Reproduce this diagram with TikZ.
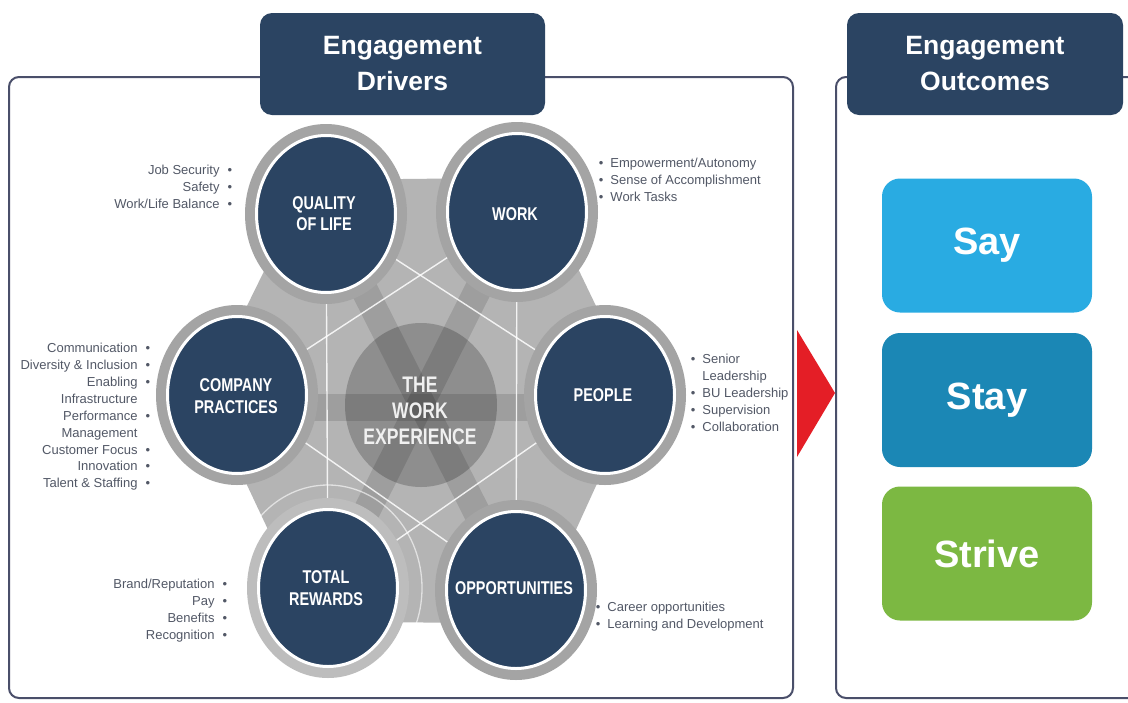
\documentclass[tikz,border=0pt]{standalone}
\usepackage{fontspec}
\setmainfont{Liberation Sans}
\newfontfamily\condfont{Liberation Sans}[FakeStretch=0.78]
\usetikzlibrary{shapes.geometric,calc}
\definecolor{navy}{HTML}{2B4462}
\definecolor{framec}{HTML}{4A4F6A}
\definecolor{hexc}{HTML}{B4B4B4}
\definecolor{ringc}{HTML}{A4A4A4}
\definecolor{ringlight}{HTML}{BDBDBD}
\definecolor{centc}{HTML}{8E8E8E}
\definecolor{listc}{HTML}{525866}
\definecolor{sayc}{HTML}{29ABE2}
\definecolor{stayc}{HTML}{1B87B5}
\definecolor{strivec}{HTML}{7CB842}
\definecolor{arrowc}{HTML}{E41E26}
\tikzset{
  frame/.style={draw=framec, line width=2pt, rounded corners=10pt},
  hdr/.style={fill=navy, rounded corners=12pt, text=white, align=center, inner sep=0pt,
    font=\fontsize{26.5}{36}\selectfont\bfseries},
  drv/.style={ellipse, fill=navy, draw=white, line width=3pt, minimum width=139pt,
    minimum height=157pt, inner sep=0pt},
  drvtxt/.style={text=white, align=center, inner sep=0pt,
    font=\condfont\fontsize{18.5}{21.5}\selectfont\bfseries},
  lstr/.style={text=listc, align=right, inner sep=0pt, anchor=north east,
    font=\fontsize{13}{16.9}\selectfont},
  lstl/.style={text=listc, align=left, inner sep=0pt, anchor=north west,
    font=\fontsize{13}{16.9}\selectfont},
  outbox/.style={rounded corners=18pt, text=white, inner sep=0pt,
    minimum width=210pt, minimum height=134pt,
    font=\fontsize{38}{40}\selectfont\bfseries},
  band/.style={line width=27pt, draw=black, opacity=0.12},
  wline/.style={draw=white, opacity=0.85, line width=1.4pt}
}
\newcommand{\rb}{\hspace{8pt}•}
\newcommand{\lb}{•\hspace{7pt}}
\begin{document}
\begin{tikzpicture}[x=1pt,y=-1pt]
\useasboundingbox (0,0) rectangle (1128,702);
\fill[white] (0,0) rectangle (1128,702);

% frames
\draw[frame] (9,77) rectangle (793,698);
\draw[frame] (836,77) rectangle (1150,698);

% headers
\node[hdr, minimum width=285pt, minimum height=102pt] (hdrv) at (402.5,64) {Engagement\\Drivers};
\node[hdr, minimum width=276pt, minimum height=102pt] (hout) at (985,64) {Engagement\\Outcomes};

% centres
\coordinate (Pm) at (421,403);
\coordinate (Pq) at (326,214);
\coordinate (Pw) at (517,212);
\coordinate (Ppe) at (605,395);
\coordinate (Po) at (516,590);
\coordinate (Pt) at (328,588);
\coordinate (Pc) at (237,395);

% hexagon background
\fill[hexc] ($(Pm)!1.18!(Pq)$) -- ($(Pm)!1.18!(Pw)$) -- ($(Pm)!1.18!(Ppe)$) --
  ($(Pm)!1.18!(Po)$) -- ($(Pm)!1.18!(Pt)$) -- ($(Pm)!1.18!(Pc)$) -- cycle;

% centre circle
\fill[centc] (421,405) ellipse [x radius=76pt, y radius=82pt];

% darker bands
\draw[band] (Pq) -- (Po);
\draw[band] (Pw) -- (Pt);
\draw[band] (237,407) -- (605,407);

% white hexagram lines
\draw[wline] (Pq) -- (Ppe) -- (Pt) -- cycle;
\draw[wline] (Pw) -- (Po) -- (Pc) -- cycle;

% outer rings
\foreach \p in {Pq,Pw,Ppe,Po,Pc}
  \fill[ringc] (\p) ellipse [x radius=81pt, y radius=90pt];
\fill[ringlight] (Pt) ellipse [x radius=81pt, y radius=90pt];
\draw[white, opacity=0.6, line width=1.3pt] (Pt) ellipse [x radius=94pt, y radius=103pt];

% driver circles
\node[drv] (qol) at (Pq) {};
\node[drv] (work) at (Pw) {};
\node[drv] (people) at (Ppe) {};
\node[drv] (opp) at (Po) {};
\node[drv] (tr) at (Pt) {};
\node[drv] (cp) at (Pc) {};

\node[drvtxt] (qolt) at (324,213.5) {QUALITY\\OF LIFE};
\node[drvtxt] (workt) at (515,214) {WORK};
\node[drvtxt] (peoplet) at (603,395) {PEOPLE};
\node[drvtxt] (oppt) at (514,588) {OPPORTUNITIES};
\node[drvtxt] (trt) at (326,588) {TOTAL\\REWARDS};
\node[drvtxt] (cpt) at (236,396) {COMPANY\\PRACTICES};
\node[drvtxt, text=white!94!black, font=\condfont\fontsize{22.5}{26}\selectfont\bfseries] (wex) at (420,411) {THE\\WORK\\EXPERIENCE};

% lists
\node[lstr] (lq) at (232.3,165) {Job Security\rb\\Safety\rb\\Work/Life Balance\rb};
\node[lstl] (lw) at (598.7,158) {\lb Empowerment/Autonomy\\\lb Sense of Accomplishment\\\lb Work Tasks};
\node[lstr] (lc) at (150.3,343) {Communication\rb\\Diversity \& Inclusion\rb\\Enabling\rb\\Infrastructure\phantom{\rb}\\Performance\rb\\Management\phantom{\rb}\\Customer Focus\rb\\Innovation\rb\\Talent \& Staffing\rb};
\node[lstl] (lp) at (690.7,354) {\lb Senior\\\phantom{\lb}Leadership\\\lb BU Leadership\\\lb Supervision\\\lb Collaboration};
\node[lstr] (lt) at (227.3,579) {Brand/Reputation\rb\\Pay\rb\\Benefits\rb\\Recognition\rb};
\node[lstl] (lo) at (595.7,602) {\lb Career opportunities\\\lb Learning and Development};

% arrow
\fill[arrowc] (797,330) -- (835,393) -- (797,457) -- cycle;

% outcomes
\node[outbox, fill=sayc] (say) at (987,245.5) {Say};
\node[outbox, fill=stayc] (stay) at (987,400) {Stay};
\node[outbox, fill=strivec] (strive) at (987,553.5) {Strive};
\end{tikzpicture}
\end{document}
